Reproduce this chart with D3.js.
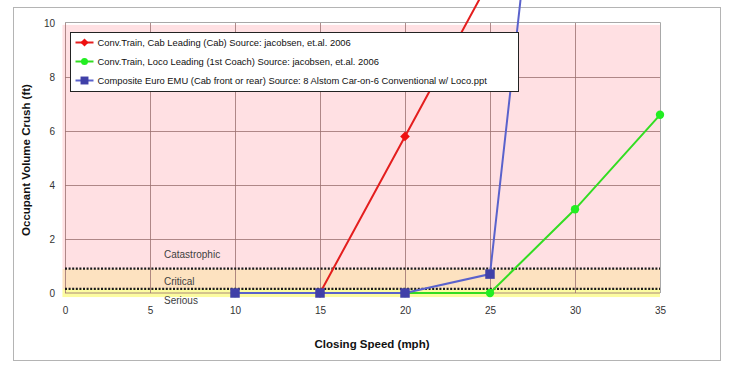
<!DOCTYPE html>
<html>
<head>
<meta charset="utf-8">
<script src="https://cdn.jsdelivr.net/npm/d3@7"></script>
<style>
  body { margin: 0; background: #fff; }
  text { font-family: "Liberation Sans", Arial, sans-serif; }
</style>
</head>
<body>
<div class="canvas"></div>
<script>
// data
const speeds = [10, 15, 20, 25, 30, 35];
const cabLeading = [null, 0, 5.8, 11.6, null, null];
const locoLeading = [0, 0, 0, 0, 3.1, 6.6];
const euroEmu = [0, 0, 0, 0.7, 29, null];
const xTicks = [0, 5, 10, 15, 20, 25, 30, 35];
const yTicks = [0, 2, 4, 6, 8, 10];

// severity bands [from, to] in ft
const bandNames = ["Serious", "Critical", "Catastrophic"];
const bandFrom = [-0.15, 0.15, 0.9];
const bandTo = [0.15, 0.9, 9.93];
const bandLabelY = [-0.42, 0.3, 1.3];
const thresholds = [0.15, 0.9];

const seriesNames = [
  "Conv.Train, Cab Leading (Cab) Source: jacobsen, et.al. 2006",
  "Conv.Train, Loco Leading (1st Coach) Source: jacobsen, et.al. 2006",
  "Composite Euro EMU (Cab front or rear) Source: 8 Alstom Car-on-6 Conventional w/ Loco.ppt"
];
const seriesValues = [cabLeading, locoLeading, euroEmu];

const colors = ["#e41e1e", "#33dd22", "#5a62cc"];
const markerColors = ["#ee1111", "#22ee22", "#4040a8"];
const bandColors = ["#fcfca0", "#fde2c0", "#ffe0e3"];

const x = d3.scaleLinear().domain([0, 35]).range([65, 660]);
const y = d3.scaleLinear().domain([0, 10]).range([293, 23]);

// prettier-ignore
const svg = d3.select(".canvas").append("svg")
  .attr("width", 750)
  .attr("height", 378);

// outer chart frame
svg.append("rect")
  .attr("x", 13.5).attr("y", 7.5)
  .attr("width", 707).attr("height", 353)
  .attr("fill", "#fff")
  .attr("stroke", "#b4b4b4");

// bands
svg.append("g").selectAll("rect")
  .data(bandNames)
  .join("rect")
  .attr("x", x(-0.15))
  .attr("width", x(35) - x(-0.15))
  .attr("y", (d, i) => y(bandTo[i]))
  .attr("height", (d, i) => y(bandFrom[i]) - y(bandTo[i]))
  .attr("fill", (d, i) => bandColors[i]);

// gridlines
svg.append("g")
  .attr("transform", `translate(0, ${y(0)})`)
  .call(d3.axisBottom(x).tickValues(xTicks.slice(0, -1)).tickSize(-(y(0) - y(10))).tickFormat(""))
  .call(g => g.select(".domain").remove())
  .call(g => g.selectAll("line").attr("stroke", "#9a7070").attr("stroke-width", 0.8));

svg.append("g")
  .attr("transform", `translate(${x(0)}, 0)`)
  .call(d3.axisLeft(y).tickValues(yTicks.slice(1, -1)).tickSize(-(x(35) - x(0))).tickFormat(""))
  .call(g => g.select(".domain").remove())
  .call(g => g.selectAll("line").attr("stroke", "#9a7070").attr("stroke-width", 0.8));

svg.append("line")
  .attr("x1", x(0)).attr("x2", x(35))
  .attr("y1", y(0)).attr("y2", y(0))
  .attr("stroke", "#9a7070").attr("stroke-width", 0.8);

// plot area border (top and right)
svg.append("path")
  .attr("d", `M${x(0)},${y(10) - 0.5}H${x(35) + 0.5}V${y(0)}`)
  .attr("fill", "none")
  .attr("stroke", "#a8a8a8");

// threshold dotted lines
svg.append("g").selectAll("line")
  .data(thresholds)
  .join("line")
  .attr("x1", x(0)).attr("x2", x(35))
  .attr("y1", d => y(d)).attr("y2", d => y(d))
  .attr("stroke", "#1a1a1a")
  .attr("stroke-width", 2.2)
  .attr("stroke-dasharray", "2,1.6");

// band labels
svg.append("g").selectAll("text")
  .data(bandNames)
  .join("text")
  .attr("x", 164)
  .attr("y", (d, i) => y(bandLabelY[i]))
  .attr("font-size", 10)
  .attr("fill", "#404040")
  .text(d => d);

// axis labels
svg.append("g")
  .attr("transform", `translate(0, ${y(0)})`)
  .call(d3.axisBottom(x).tickValues(xTicks).tickSize(0).tickPadding(14))
  .call(g => g.select(".domain").remove())
  .call(g => g.selectAll("text").attr("font-size", 10).attr("fill", "#333").attr("font-family", "Liberation Sans, Arial"));

svg.append("g")
  .attr("transform", `translate(${x(0)}, 0)`)
  .call(d3.axisLeft(y).tickValues(yTicks).tickSize(0).tickPadding(10))
  .call(g => g.select(".domain").remove())
  .call(g => g.selectAll("text").attr("font-size", 10).attr("fill", "#333").attr("font-family", "Liberation Sans, Arial"));

svg.append("text")
  .attr("x", 372).attr("y", 348)
  .attr("text-anchor", "middle")
  .attr("font-size", 11.5)
  .attr("font-weight", "bold")
  .attr("fill", "#111")
  .text("Closing Speed (mph)");

svg.append("text")
  .attr("transform", "translate(30, 160) rotate(-90)")
  .attr("text-anchor", "middle")
  .attr("font-size", 11.5)
  .attr("font-weight", "bold")
  .attr("fill", "#111")
  .text("Occupant Volume Crush (ft)");

// series lines
const line = d3.line()
  .defined(d => d[1] !== null)
  .x(d => x(d[0]))
  .y(d => y(d[1]));

const symbols = [d3.symbolDiamond2, d3.symbolCircle, d3.symbolSquare];
const symbolSizes = [60, 55, 90];

seriesValues.forEach((vals, i) => {
  const pts = speeds.map((s, j) => [s, vals[j]]);
  svg.append("path")
    .datum(pts)
    .attr("fill", "none")
    .attr("stroke", colors[i])
    .attr("stroke-width", 2)
    .attr("d", line);
});

seriesValues.forEach((vals, i) => {
  const pts = speeds.map((s, j) => [s, vals[j]]).filter(d => d[1] !== null && d[1] <= 10);
  svg.append("g").selectAll("path")
    .data(pts)
    .join("path")
    .attr("transform", d => `translate(${x(d[0])}, ${y(d[1])})`)
    .attr("d", d3.symbol(symbols[i], symbolSizes[i]))
    .attr("fill", markerColors[i]);
});

// legend
const legend = svg.append("g").attr("transform", "translate(70.5, 32.5)");
legend.append("rect")
  .attr("width", 448).attr("height", 59)
  .attr("fill", "#fff")
  .attr("stroke", "#222");

const rows = legend.selectAll("g")
  .data(seriesNames)
  .join("g")
  .attr("transform", (d, i) => `translate(0, ${10 + i * 19})`);

rows.append("line")
  .attr("x1", 5).attr("x2", 23)
  .attr("stroke", (d, i) => colors[i])
  .attr("stroke-width", 2);

rows.append("path")
  .attr("transform", "translate(14, 0)")
  .attr("d", (d, i) => d3.symbol(symbols[i], symbolSizes[i] * 0.7)())
  .attr("fill", (d, i) => markerColors[i]);

rows.append("text")
  .attr("x", 27)
  .attr("y", 3.5)
  .attr("font-size", 9.4)
  .attr("fill", "#111")
  .text(d => d);
</script>
</body>
</html>
